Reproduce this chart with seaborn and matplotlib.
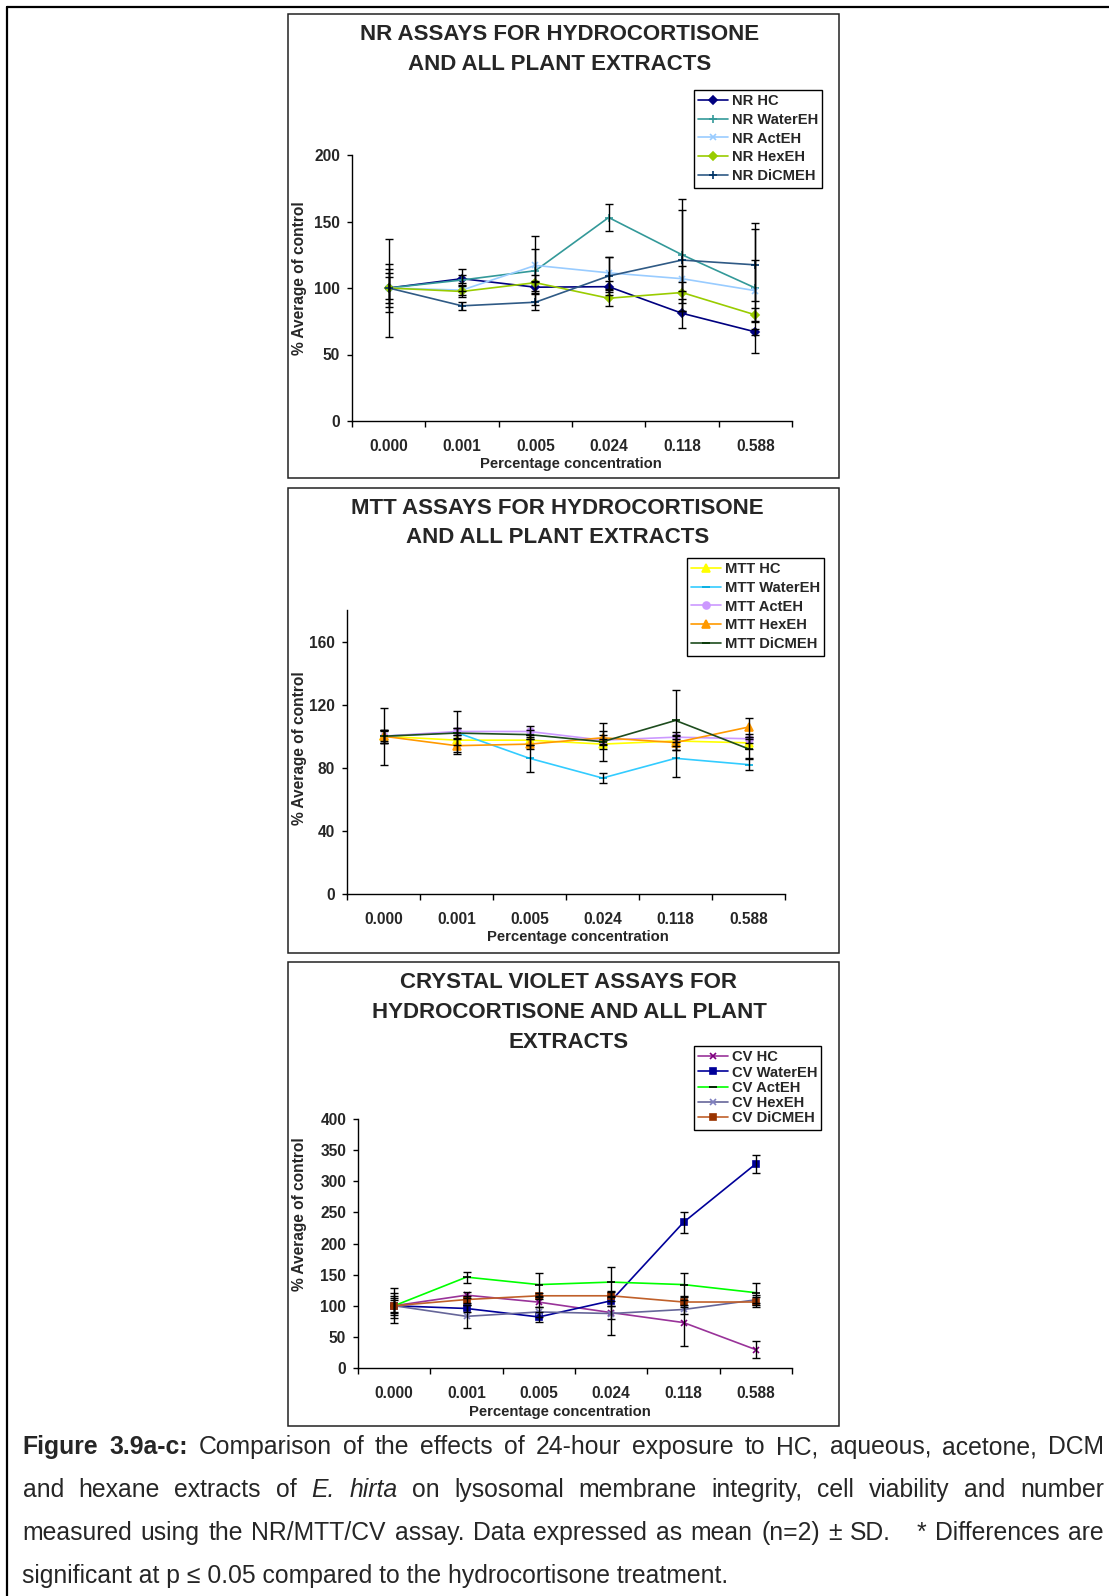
import matplotlib
matplotlib.use("Agg")
import matplotlib.pyplot as plt
import seaborn as sns
import numpy as np
from matplotlib.patches import Rectangle
from matplotlib.lines import Line2D

sns.set_style("ticks")
plt.rcParams['font.family'] = ['Liberation Sans', 'DejaVu Sans']

# ---------------- data ----------------
conc_labels = ["0.000", "0.001", "0.005", "0.024", "0.118", "0.588"]

nr_names = ["NR HC", "NR WaterEH", "NR ActEH", "NR HexEH", "NR DiCMEH"]
nr_hc = [100, 107, 100.6, 101, 81, 67]
nr_hc_sd = [8.5, 3, 4, 4, 11, 2]
nr_water = [100, 106, 113, 153, 125, 100]
nr_water_sd = [18, 8, 26, 10.5, 42, 49]
nr_act = [100, 98.4, 117, 111.4, 107, 98]
nr_act_sd = [36.5, 4, 12, 12, 9.5, 23]
nr_hex = [100, 97.4, 104, 92.3, 96.6, 79.8]
nr_hex_sd = [11, 4, 6, 6, 8, 5]
nr_dicm = [100, 86.6, 89.3, 109, 121, 117.4]
nr_dicm_sd = [14, 3, 6, 14, 38, 27]

mtt_names = ["MTT HC", "MTT WaterEH", "MTT ActEH", "MTT HexEH", "MTT DiCMEH"]
mtt_hc = [100, 97.5, 97.5, 95, 97, 95.8]
mtt_hc_sd = [4, 3, 3, 3, 3, 4]
mtt_water = [100, 102.4, 86, 73.5, 86, 82]
mtt_water_sd = [4, 13.5, 8.5, 3, 12, 3.5]
mtt_act = [100, 103, 103, 97.5, 99.4, 98.4]
mtt_act_sd = [3, 2, 3.6, 3, 3, 3]
mtt_hex = [100, 94, 95, 99, 96, 105.8]
mtt_hex_sd = [18, 4, 3, 4, 5, 6]
mtt_dicm = [100, 102, 101, 96.5, 110, 92]
mtt_dicm_sd = [4, 3, 3, 12, 19, 6]

cv_names = ["CV HC", "CV WaterEH", "CV ActEH", "CV HexEH", "CV DiCMEH"]
cv_hc = [100, 117, 105.8, 89, 73, 29.5]
cv_hc_sd = [12, 5, 8, 10, 37, 14]
cv_water = [100, 95.6, 82, 108, 234, 328]
cv_water_sd = [20, 6, 8, 8, 17, 14]
cv_act = [100, 146, 134, 138, 134, 121]
cv_act_sd = [10, 9, 18, 24, 18, 16]
cv_hex = [100, 83, 90, 87.5, 94, 109.5]
cv_hex_sd = [28, 19, 8, 35, 8, 8]
cv_dicm = [100, 110, 116, 116, 106, 106]
cv_dicm_sd = [15, 5, 5, 8, 8, 8]

titles = [
    ["NR ASSAYS FOR HYDROCORTISONE", "AND ALL PLANT EXTRACTS"],
    ["MTT ASSAYS FOR HYDROCORTISONE", "AND ALL PLANT EXTRACTS"],
    ["CRYSTAL VIOLET ASSAYS FOR", "HYDROCORTISONE AND ALL PLANT", "EXTRACTS"],
]
xlabel_text = "Percentage concentration"
ylabel_text = "% Average of control"

# ---------------- figure ----------------
W, H = 1109, 1596
fig = plt.figure(figsize=(W / 100, H / 100), dpi=100)
fig.patch.set_facecolor("white")


def fx(x):
    return x / W


def fy(y):
    return 1 - y / H


# page frame
fig.add_artist(Line2D([fx(7), fx(1109)], [fy(7), fy(7)], color="black", lw=1.6))
fig.add_artist(Line2D([fx(7), fx(7)], [fy(7), fy(1596)], color="black", lw=1.6))

# panel boxes
for (y0, y1) in [(14, 478), (488, 953), (962, 1426)]:
    fig.add_artist(Rectangle((fx(288), fy(y1)), fx(839) - fx(288), fy(y0) - fy(y1),
                             fill=False, edgecolor="#222222", lw=1.1))

pos = list(range(6))
TICK_FS = 11.2
LEG_FS = 10.6


def make_panel(rect, series, ylim, yticks, legend_anchor, leg_spacing):
    x0, ytop, x1, ybot = rect
    ax = fig.add_axes([fx(x0), fy(ybot), fx(x1) - fx(x0), fy(ytop) - fy(ybot)])
    ax.set_facecolor("none")
    for name, vals, sds, lc, mc, mk, ms in series:
        sns.lineplot(x=pos, y=vals, ax=ax, color=lc, marker=mk, markersize=ms,
                     markerfacecolor=mc, markeredgecolor=mc, markeredgewidth=1.2,
                     label=name, linewidth=1.2, zorder=3)
        ax.errorbar(pos, vals, yerr=sds, fmt="none", ecolor="black", elinewidth=1.0,
                    capsize=3.2, capthick=1.0, zorder=4)
    ax.set_xlim(-0.5, 5.5)
    ax.set_ylim(*ylim)
    ax.set_yticks(yticks)
    ax.set_yticklabels([str(t) for t in yticks], fontweight="bold", fontsize=TICK_FS)
    ax.set_xticks(pos)
    ax.set_xticklabels(conc_labels, fontweight="bold", fontsize=TICK_FS)
    ax.set_xticks(np.arange(-0.5, 6.0, 1.0), minor=True)
    ax.tick_params(axis="x", which="major", length=0, pad=13)
    ax.tick_params(axis="x", which="minor", length=4, width=1, direction="out", color="black")
    ax.tick_params(axis="y", which="major", length=3.5, width=1, direction="out", pad=5, color="black")
    for s in ["top", "right"]:
        ax.spines[s].set_visible(False)
    for s in ["left", "bottom"]:
        ax.spines[s].set_color("black")
        ax.spines[s].set_linewidth(1.0)
    ax.set_xlabel("")
    ax.set_ylabel("")
    handles, labels = ax.get_legend_handles_labels()
    if ax.get_legend() is not None:
        ax.get_legend().remove()
    leg = fig.legend(handles, labels, loc="upper left",
                     bbox_to_anchor=(fx(legend_anchor[0]), fy(legend_anchor[1])),
                     bbox_transform=fig.transFigure, frameon=True, fancybox=False,
                     edgecolor="black", framealpha=1, prop={"weight": "bold", "size": LEG_FS},
                     handlelength=2.0, handletextpad=0.25, labelspacing=leg_spacing,
                     borderpad=0.3, borderaxespad=0, numpoints=1)
    leg.get_frame().set_linewidth(1.0)
    return ax


nr_series = [
    (nr_names[0], nr_hc, nr_hc_sd, "#000080", "#000080", "D", 4.5),
    (nr_names[1], nr_water, nr_water_sd, "#339999", "#339999", "+", 6),
    (nr_names[2], nr_act, nr_act_sd, "#99ccff", "#99ccff", "x", 5),
    (nr_names[3], nr_hex, nr_hex_sd, "#99cc00", "#99cc00", "D", 4.5),
    (nr_names[4], nr_dicm, nr_dicm_sd, "#2f5a85", "#003366", "+", 6),
]
mtt_series = [
    (mtt_names[0], mtt_hc, mtt_hc_sd, "#ffff00", "#ffff00", "^", 6),
    (mtt_names[1], mtt_water, mtt_water_sd, "#33ccff", "#00aadd", "_", 6),
    (mtt_names[2], mtt_act, mtt_act_sd, "#cc99ff", "#cc99ff", "o", 5),
    (mtt_names[3], mtt_hex, mtt_hex_sd, "#ff9900", "#ff9900", "^", 6),
    (mtt_names[4], mtt_dicm, mtt_dicm_sd, "#1e4d1e", "#003300", "_", 6),
]
cv_series = [
    (cv_names[0], cv_hc, cv_hc_sd, "#993399", "#800080", "x", 5),
    (cv_names[1], cv_water, cv_water_sd, "#000099", "#000099", "s", 4.5),
    (cv_names[2], cv_act, cv_act_sd, "#00ff00", "#000000", "_", 6),
    (cv_names[3], cv_hex, cv_hex_sd, "#666699", "#8080c0", "x", 5),
    (cv_names[4], cv_dicm, cv_dicm_sd, "#c0602a", "#993300", "s", 4.5),
]

make_panel((352, 155, 792, 421), nr_series, (0, 200), [0, 50, 100, 150, 200], (694, 89.5), 0.33)
make_panel((347, 610, 785, 894), mtt_series, (0, 180), [0, 40, 80, 120, 160], (687, 557.5), 0.33)
make_panel((358, 1119, 792, 1368), cv_series, (0, 400), [0, 50, 100, 150, 200, 250, 300, 350, 400], (694, 1046), 0.08)

# titles
title_pos = [(559.5, [35, 64]), (557.5, [509, 537]), (569, [983, 1012, 1042])]
for (cx, ys), lines in zip(title_pos, titles):
    for yy, ln in zip(ys, lines):
        fig.text(fx(cx), fy(yy), ln, ha="center", va="center", fontsize=16, fontweight="bold")

# axis labels
for (cx, cy) in [(571, 464), (578, 937), (560, 1412)]:
    fig.text(fx(cx), fy(cy), xlabel_text, ha="center", va="center", fontsize=10.7, fontweight="bold")
for (cx, cy) in [(300, 278), (300, 748), (300, 1214)]:
    fig.text(fx(cx), fy(cy), ylabel_text, ha="center", va="center", rotation=90,
             fontsize=11.2, fontweight="bold")

# caption (justified)
cap_lines = [
    [("Figure", "bold", "normal", 1), ("3.9a-c:", "bold", "normal", 1), ("Comparison", "normal", "normal", 1),
     ("of", "normal", "normal", 1), ("the", "normal", "normal", 1), ("effects", "normal", "normal", 1),
     ("of", "normal", "normal", 1), ("24-hour", "normal", "normal", 1), ("exposure", "normal", "normal", 1),
     ("to", "normal", "normal", 1), ("HC,", "normal", "normal", 1), ("aqueous,", "normal", "normal", 1),
     ("acetone,", "normal", "normal", 1), ("DCM", "normal", "normal", 0)],
    [("and", "normal", "normal", 1), ("hexane", "normal", "normal", 1), ("extracts", "normal", "normal", 1),
     ("of", "normal", "normal", 1), ("E.", "normal", "italic", 1), ("hirta", "normal", "italic", 1),
     ("on", "normal", "normal", 1), ("lysosomal", "normal", "normal", 1), ("membrane", "normal", "normal", 1),
     ("integrity,", "normal", "normal", 1), ("cell", "normal", "normal", 1), ("viability", "normal", "normal", 1),
     ("and", "normal", "normal", 1), ("number", "normal", "normal", 0)],
    [("measured", "normal", "normal", 1), ("using", "normal", "normal", 1), ("the", "normal", "normal", 1),
     ("NR/MTT/CV", "normal", "normal", 1), ("assay.", "normal", "normal", 1), ("Data", "normal", "normal", 1),
     ("expressed", "normal", "normal", 1), ("as", "normal", "normal", 1), ("mean", "normal", "normal", 1),
     ("(n=2)", "normal", "normal", 1), ("±", "normal", "normal", 1), ("SD.", "normal", "normal", 3),
     ("*", "normal", "normal", 1), ("Differences", "normal", "normal", 1), ("are", "normal", "normal", 0)],
    [("significant at p ≤ 0.05 compared to the hydrocortisone treatment.", "normal", "normal", 0)],
]
cap_y = [1454, 1497, 1540, 1583]
cap_fs = 17.8
left, right = 22.5, 1104
fig.canvas.draw()
renderer = fig.canvas.get_renderer()
for li, (tokens, yb) in enumerate(zip(cap_lines, cap_y)):
    arts = []
    widths = []
    for (txt, wt, st, g) in tokens:
        t = fig.text(0, fy(yb), txt, ha="left", va="baseline", fontsize=cap_fs, fontweight=wt, fontstyle=st)
        bb = t.get_window_extent(renderer)
        arts.append(t)
        widths.append(bb.width)
    if li < 3:
        total_g = sum(tk[3] for tk in tokens)
        gap = (right - left - sum(widths)) / total_g
    else:
        gap = 0
    x = left
    for t, w, tk in zip(arts, widths, tokens):
        t.set_x(fx(x))
        x += w + gap * tk[3]

fig.savefig("out.png", dpi=100, facecolor="white")
